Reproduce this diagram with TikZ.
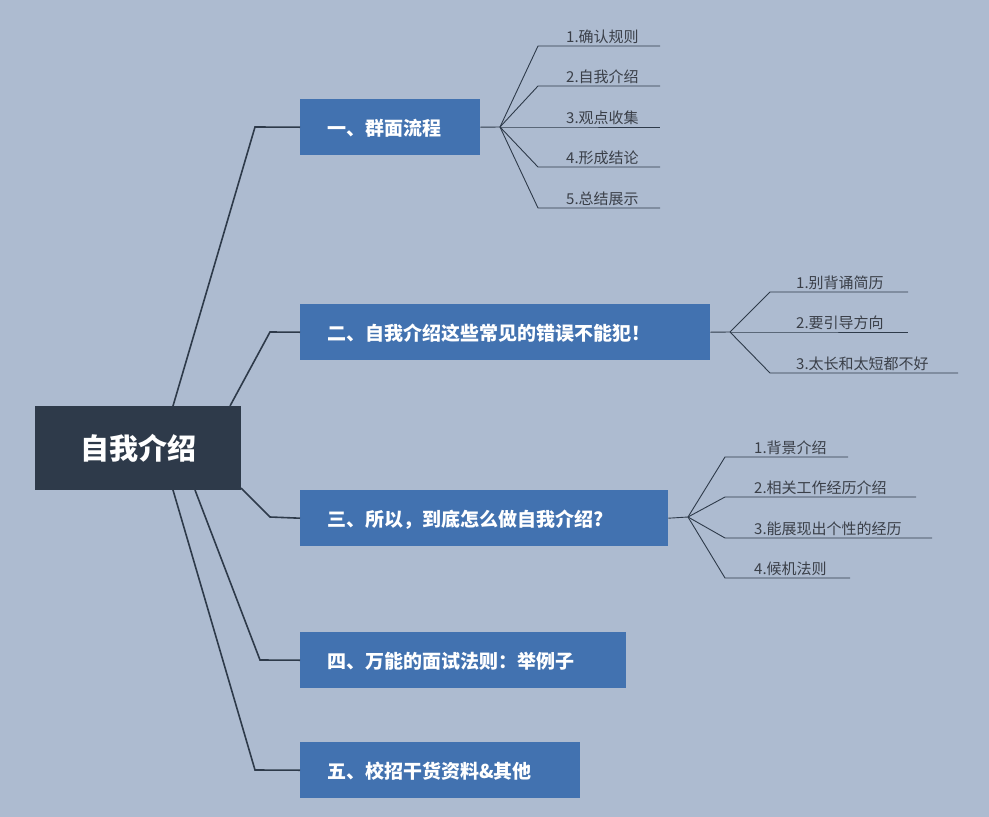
\documentclass[tikz,border=0pt]{standalone}
\usepackage{fontspec}
\newfontfamily\cjk{Noto Sans CJK SC}
\definecolor{bgcol}{HTML}{ADBBD0}
\definecolor{rootcol}{HTML}{2E3A4A}
\definecolor{boxcol}{HTML}{4272B0}
\definecolor{linecol}{HTML}{2E3A4A}
\definecolor{txtcol}{HTML}{3A3F48}
\begin{document}
\begin{tikzpicture}%
        [x=1pt, y=-1pt,
        root/.style={fill=rootcol, text=white, font=\cjk\fontsize{29}{32}\selectfont\bfseries,
            minimum width=206pt, minimum height=84pt, anchor=north west, inner sep=0pt},
        topic/.style={fill=boxcol, text=white, font=\cjk\fontsize{19}{22}\selectfont\bfseries,
            minimum height=56pt, anchor=north west, inner sep=0pt, align=left, text depth=0pt},
        link/.style={color=linecol, line width=1.6pt},
        sublink/.style={color=linecol, line width=0.9pt},
        item/.style={font=\cjk\fontsize{15}{18}\selectfont, text=txtcol, anchor=south west, inner sep=2pt}]

    %% background
    \fill[bgcol] (0,0) rectangle (989,817);
    %% central topic
    \node[root] (root) at (35,406) {自我介绍};
    %% main topics
    \node[topic, minimum width=180pt] (t1) at (300,99) {};
    \node[topic, minimum width=410pt] (t2) at (300,304) {};
    \node[topic, minimum width=368pt] (t3) at (300,490) {};
    \node[topic, minimum width=326pt] (t4) at (300,632) {};
    \node[topic, minimum width=280pt] (t5) at (300,742) {};
    \node[topic, fill=none, anchor=west] at ([xshift=27pt]t1.west) {一、群面流程};
    \node[topic, fill=none, anchor=west] at ([xshift=27pt]t2.west) {二、自我介绍这些常见的错误不能犯！};
    \node[topic, fill=none, anchor=west] at ([xshift=27pt]t3.west) {三、所以，到底怎么做自我介绍?};
    \node[topic, fill=none, anchor=west] at ([xshift=27pt]t4.west) {四、万能的面试法则：举例子};
    \node[topic, fill=none, anchor=west] at ([xshift=27pt]t5.west) {五、校招干货资料\&其他};
    %% connectors from root
    \draw[link] (173,406) -- (255,127) -- (t1.west);
    \draw[link] (230,406) -- (270,332) -- (t2.west);
    \draw[link] (241,488) -- (270,517) -- (t3.west);
    \draw[link] (195,490) -- (260,660) -- (t4.west);
    \draw[link] (173,490) -- (255,770) -- (t5.west);
    %% sub topics of t1
    \coordinate (f1) at (500,127);
    \draw[sublink] (t1.east) -- (f1);
    \foreach \y/\txt [count=\i] in {46/1.确认规则, 86/2.自我介绍, 127/3.观点收集, 167/4.形成结论, 208/5.总结展示} {
        \coordinate (a\i) at (538,\y);
        \draw[sublink] (f1) -- (a\i) -- ++(122,0);
        \node[item] (s1\i) at ([xshift=26pt]a\i) {\txt};
    }
    %% sub topics of t2
    \coordinate (f2) at (730,332);
    \draw[sublink] (t2.east) -- (f2);
    \foreach \y/\len/\txt [count=\i] in {292/138/1.别背诵简历, 332/138/2.要引导方向, 373/188/3.太长和太短都不好} {
        \coordinate (b\i) at (770,\y);
        \draw[sublink] (f2) -- (b\i) -- ++(\len,0);
        \node[item] (s2\i) at ([xshift=24pt]b\i) {\txt};
    }
    %% sub topics of t3
    \coordinate (f3) at (688,517);
    \draw[sublink] (t3.east) -- (f3);
    \foreach \y/\len/\txt [count=\i] in {457/123/1.背景介绍, 497/191/2.相关工作经历介绍, 538/207/3.能展现出个性的经历, 578/125/4.候机法则} {
        \coordinate (c\i) at (725,\y);
        \draw[sublink] (f3) -- (c\i) -- ++(\len,0);
        \node[item] (s3\i) at ([xshift=27pt]c\i) {\txt};
    }
\end{tikzpicture}
\end{document}
